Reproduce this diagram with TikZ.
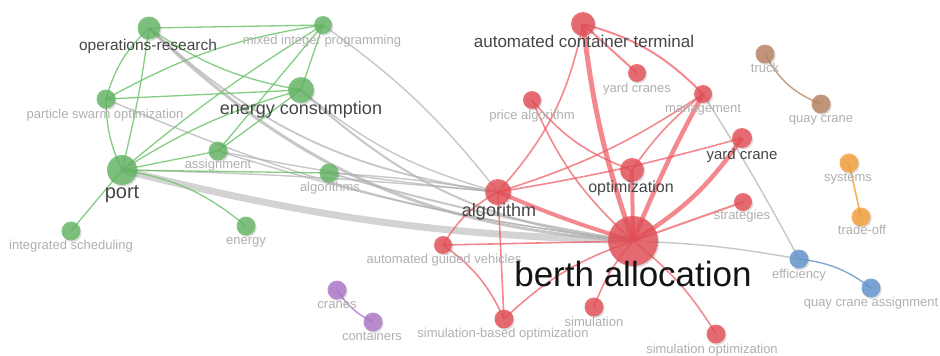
\documentclass[tikz,border=0pt]{standalone}
\usepackage{fontspec}
\setmainfont{Liberation Sans}
\usetikzlibrary{shadows}
\definecolor{cg}{RGB}{100,182,100}
\definecolor{cr}{RGB}{230,78,86}
\definecolor{cbr}{RGB}{184,130,98}
\definecolor{cor}{RGB}{245,158,55}
\definecolor{cbl}{RGB}{98,148,205}
\definecolor{cpu}{RGB}{172,118,200}
\definecolor{ege}{RGB}{112,196,112}
\definecolor{ere}{RGB}{238,88,96}
\definecolor{exe}{RGB}{176,176,176}
\definecolor{labgray}{RGB}{176,176,176}
\definecolor{labdark}{RGB}{70,70,70}
\pgfdeclarelayer{bg}
\pgfdeclarelayer{edges}
\pgfsetlayers{bg,edges,main}
\tikzset{
  vnode/.style={circle, inner sep=0pt, draw=none, fill opacity=0.8,
    drop shadow={shadow xshift=1.2pt, shadow yshift=-1.6pt, fill=black, opacity=0.13}},
  gn/.style={vnode, fill=cg},
  rn/.style={vnode, fill=cr},
  brn/.style={vnode, fill=cbr},
  orn/.style={vnode, fill=cor},
  bln/.style={vnode, fill=cbl},
  pun/.style={vnode, fill=cpu},
  ge/.style={draw=ege, line width=1.3pt, draw opacity=0.85},
  re/.style={draw=ere, line width=1.6pt, draw opacity=0.7},
  xe/.style={draw=exe, line width=1.4pt, draw opacity=0.7},
  bre/.style={draw=cbr, line width=1.4pt, draw opacity=0.8},
  ore/.style={draw=cor, line width=1.6pt, draw opacity=0.8},
  ble/.style={draw=cbl, line width=1.4pt, draw opacity=0.8},
  pue/.style={draw=cpu, line width=1.4pt, draw opacity=0.8},
  lab/.style={inner sep=0pt, anchor=base, text=labgray, font=\fontsize{13}{15}\selectfont},
  dlab/.style={lab, text=labdark},
}
\begin{document}
\begin{tikzpicture}[x=1pt,y=1pt]
\useasboundingbox (0,0) rectangle (940,-356);
\begin{pgfonlayer}{bg}
\fill[white] (0,0) rectangle (940,-356);
\end{pgfonlayer}
% ---------- nodes ----------
\node[gn, minimum size=23pt] (or) at (149,-28) {};
\node[gn, minimum size=18pt] (mip) at (323,-25) {};
\node[gn, minimum size=19pt] (pso) at (106,-99) {};
\node[gn, minimum size=26pt] (ec) at (301,-90) {};
\node[gn, minimum size=19pt] (asg) at (218,-151) {};
\node[gn, minimum size=30pt] (port) at (122,-170) {};
\node[gn, minimum size=19pt] (algs) at (329,-173) {};
\node[gn, minimum size=19pt] (isch) at (71,-231) {};
\node[gn, minimum size=19pt] (energy) at (246,-226) {};
\node[pun, minimum size=19pt] (cranes) at (337,-290) {};
\node[pun, minimum size=19pt] (cont) at (373,-322) {};
\node[rn, minimum size=24pt] (act) at (583,-24) {};
\node[rn, minimum size=18pt] (ycs) at (637,-73) {};
\node[rn, minimum size=18pt] (palg) at (532,-100) {};
\node[rn, minimum size=18pt] (mgmt) at (703,-94) {};
\node[rn, minimum size=20pt] (yc) at (742,-138) {};
\node[rn, minimum size=24pt] (opt) at (632,-170) {};
\node[rn, minimum size=26pt] (alg) at (498,-192) {};
\node[rn, minimum size=18pt] (strat) at (743,-202) {};
\node[rn, minimum size=18pt] (agv) at (443,-245) {};
\node[rn, minimum size=50pt] (berth) at (633,-241) {};
\node[rn, minimum size=19pt] (sim) at (594,-307) {};
\node[rn, minimum size=19pt] (sbo) at (504,-319) {};
\node[rn, minimum size=19pt] (simopt) at (716,-334) {};
\node[brn, minimum size=19pt] (truck) at (765,-54) {};
\node[brn, minimum size=19pt] (qc) at (821,-104) {};
\node[orn, minimum size=19pt] (sys) at (849,-163) {};
\node[orn, minimum size=19pt] (trade) at (861,-217) {};
\node[bln, minimum size=19pt] (eff) at (799,-259) {};
\node[bln, minimum size=19pt] (qca) at (871,-288) {};
% ---------- edges ----------
\begin{pgfonlayer}{edges}
% gray links between clusters
\draw[xe, line width=7pt, draw opacity=0.55] (port.center) to[bend right=6] (berth.center);
\draw[xe, line width=3pt] (or.center) to[bend right=20] (berth.center);
\draw[xe, line width=1.8pt] (or.center) to[bend right=17] (alg.center);
\draw[xe, line width=2pt] (ec.center) to[bend right=18] (berth.center);
\draw[xe] (ec.center) to[bend right=12] (alg.center);
\draw[xe] (mip.center) to[bend left=8] (alg.center);
\draw[xe] (pso.center) to[bend right=8] (berth.center);
\draw[xe] (asg.center) to[bend right=3] (alg.center);
\draw[xe] (asg.center) to[bend right=5] (berth.center);
\draw[xe, line width=2pt] (algs.center) to[bend right=3] (berth.center);
\draw[xe] (algs.center) to[bend left=3] (alg.center);
\draw[xe] (port.center) to[bend left=2] (alg.center);
\draw[xe] (berth.center) to[bend left=4] (eff.center);
\draw[xe] (mgmt.center) to[bend left=2] (eff.center);
% green
\draw[ge] (or.center) -- (mip.center);
\draw[ge] (or.center) to[bend right=15] (pso.center);
\draw[ge] (or.center) to[bend left=3] (port.center);
\draw[ge] (or.center) to[bend right=12] (ec.center);
\draw[ge] (pso.center) to[bend left=10] (mip.center);
\draw[ge] (pso.center) -- (ec.center);
\draw[ge] (pso.center) to[bend right=12] (port.center);
\draw[ge] (mip.center) -- (ec.center);
\draw[ge] (mip.center) -- (asg.center);
\draw[ge] (port.center) to[bend left=4] (mip.center);
\draw[ge] (ec.center) -- (asg.center);
\draw[ge] (port.center) to[bend left=8] (ec.center);
\draw[ge] (port.center) -- (asg.center);
\draw[ge] (port.center) -- (algs.center);
\draw[ge] (port.center) -- (isch.center);
\draw[ge] (port.center) to[bend left=15] (energy.center);
% red
\draw[re, line width=5pt] (act.center) to[bend right=6] (berth.center);
\draw[re] (act.center) to[bend left=15] (alg.center);
\draw[re, line width=2pt] (act.center) -- (ycs.center);
\draw[re, line width=2pt] (act.center) to[bend left=15] (mgmt.center);
\draw[re] (palg.center) to[bend right=12] (berth.center);
\draw[re] (palg.center) to[bend right=15] (opt.center);
\draw[re, line width=4.5pt] (mgmt.center) to[bend right=3] (berth.center);
\draw[re] (mgmt.center) to[bend left=8] (alg.center);
\draw[re] (mgmt.center) to[bend right=8] (opt.center);
\draw[re, line width=4.5pt] (yc.center) to[bend left=12] (berth.center);
\draw[re] (yc.center) to[bend left=3] (alg.center);
\draw[re, line width=4pt] (opt.center) -- (berth.center);
\draw[re, line width=2pt] (strat.center) -- (berth.center);
\draw[re, line width=4pt] (alg.center) to[bend right=3] (berth.center);
\draw[re] (alg.center) to[bend right=15] (agv.center);
\draw[re] (alg.center) -- (sbo.center);
\draw[re] (agv.center) -- (berth.center);
\draw[re] (agv.center) to[bend left=15] (sbo.center);
\draw[re] (sbo.center) to[bend left=12] (berth.center);
\draw[re] (sim.center) to[bend left=10] (berth.center);
\draw[re] (simopt.center) to[bend right=10] (berth.center);
% small clusters
\draw[bre] (truck.center) to[bend right=20] (qc.center);
\draw[ore] (sys.center) -- (trade.center);
\draw[ble] (eff.center) to[bend left=15] (qca.center);
\draw[pue] (cranes.center) to[bend right=15] (cont.center);
\end{pgfonlayer}
% ---------- labels ----------
\node[dlab, font=\fontsize{15.5}{17}\selectfont] (or-l) at (148,-50) {operations-research};
\node[lab] (mip-l) at (322,-44.5) {mixed integer programming};
\node[lab] (pso-l) at (105,-118.5) {particle swarm optimization};
\node[dlab, font=\fontsize{18}{20}\selectfont] (ec-l) at (301,-114.5) {energy consumption};
\node[lab] (asg-l) at (218,-168.5) {assignment};
\node[dlab, font=\fontsize{20}{22}\selectfont] (port-l) at (122,-198) {port};
\node[lab] (algs-l) at (330,-191.5) {algorithms};
\node[lab] (isch-l) at (71,-249.5) {integrated scheduling};
\node[lab] (energy-l) at (246,-244.5) {energy};
\node[lab] (cranes-l) at (337,-308.5) {cranes};
\node[lab] (cont-l) at (372,-340.5) {containers};
\node[dlab, font=\fontsize{17}{19}\selectfont] (act-l) at (584,-47.5) {automated container terminal};
\node[lab] (ycs-l) at (637,-92.5) {yard cranes};
\node[lab] (palg-l) at (532,-119.5) {price algorithm};
\node[lab] (mgmt-l) at (703,-112.5) {management};
\node[dlab, font=\fontsize{15}{17}\selectfont] (yc-l) at (742,-159) {yard crane};
\node[dlab, font=\fontsize{16}{18}\selectfont] (opt-l) at (631,-192) {optimization};
\node[dlab, font=\fontsize{18}{20}\selectfont] (alg-l) at (499,-216.5) {algorithm};
\node[lab] (strat-l) at (742,-219.5) {strategies};
\node[lab] (agv-l) at (444,-263.5) {automated guided vehicles};
\node[dlab, text=black!92, font=\fontsize{35}{38}\selectfont] (berth-l) at (633,-286.5) {berth allocation};
\node[lab] (sim-l) at (594,-326.5) {simulation};
\node[lab] (sbo-l) at (503,-337.5) {simulation-based optimization};
\node[lab] (simopt-l) at (712,-353.5) {simulation optimization};
\node[lab] (truck-l) at (765,-72.5) {truck};
\node[lab] (qc-l) at (821,-122.5) {quay crane};
\node[lab] (sys-l) at (848,-181.5) {systems};
\node[lab] (trade-l) at (862,-234.5) {trade-off};
\node[lab] (eff-l) at (799,-278.5) {efficiency};
\node[lab] (qca-l) at (871,-306.5) {quay crane assignment};
\end{tikzpicture}
\end{document}
